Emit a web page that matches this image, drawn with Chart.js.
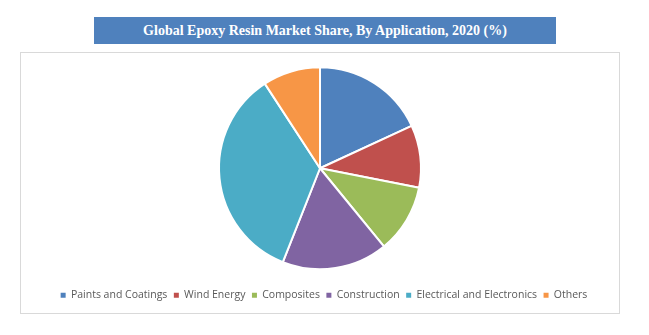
<!DOCTYPE html>
<html>
<head>
<meta charset="utf-8">
<script src="https://cdn.jsdelivr.net/npm/chart.js@4/dist/chart.umd.min.js"></script>
<style>
  html, body { margin: 0; padding: 0; background: #ffffff; }
  body { width: 649px; height: 335px; position: relative; overflow: hidden; }
  #frame {
    position: absolute; left: 20px; top: 52px; width: 598px; height: 260px;
    border: 1px solid #d9d9d9; box-sizing: content-box;
  }
  #heading {
    position: absolute; left: 94px; top: 17px; width: 462px; height: 27px;
    background: #4f81bd; color: #ffffff;
    font-family: "Liberation Serif", "Times New Roman", serif;
    font-weight: bold; font-size: 14px; line-height: 27px; text-align: center;
  }
  #wrap { position: absolute; left: 0; top: 0; width: 649px; height: 335px; }
</style>
</head>
<body>
<div id="frame"></div>
<div id="heading">Global Epoxy Resin Market Share, By Application, 2020 (%)</div>
<div id="wrap"><canvas id="chart"></canvas></div>
<script>
// Application segments and their share of the 2020 market (%)
const categories = [
  "Paints and Coatings",
  "Wind Energy",
  "Composites",
  "Construction",
  "Electrical and Electronics",
  "Others"
];
const shares = [18.1, 10.0, 11.0, 16.9, 34.8, 9.2];
const sliceColors = ["#4f81bd", "#c0504d", "#9bbb59", "#8064a2", "#4bacc6", "#f79646"];

const baseLabels = Chart.overrides.pie.plugins.legend.labels.generateLabels;

// nudge the legend row slightly right of the pie's centre line
const legendNudge = {
  id: "legendNudge",
  afterLayout(chart) {
    if (chart.legend) { chart.legend.left += 4; chart.legend.right += 4; }
  }
};

new Chart(document.getElementById("chart"), {
  type: "pie",
  data: {
    labels: categories,
    datasets: [{
      data: shares,
      backgroundColor: sliceColors,
      borderColor: "#ffffff",
      borderWidth: 2,
      radius: 101
    }]
  },
  options: {
    responsive: true,
    maintainAspectRatio: false,
    animation: false,
    layout: { padding: { top: 53, bottom: 24.5, left: 0, right: 9 } },
    plugins: {
      tooltip: { enabled: false },
      legend: {
        position: "bottom",
        labels: {
          boxWidth: 5,
          boxHeight: 5,
          padding: 6.5,
          color: "#595959",
          font: { family: "'Open Sans', sans-serif", size: 10.5 },
          generateLabels(chart) {
            return baseLabels(chart).map(l => Object.assign(l, { lineWidth: 0, strokeStyle: l.fillStyle }));
          }
        }
      }
    }
  },
  plugins: [legendNudge]
});
</script>
</body>
</html>
